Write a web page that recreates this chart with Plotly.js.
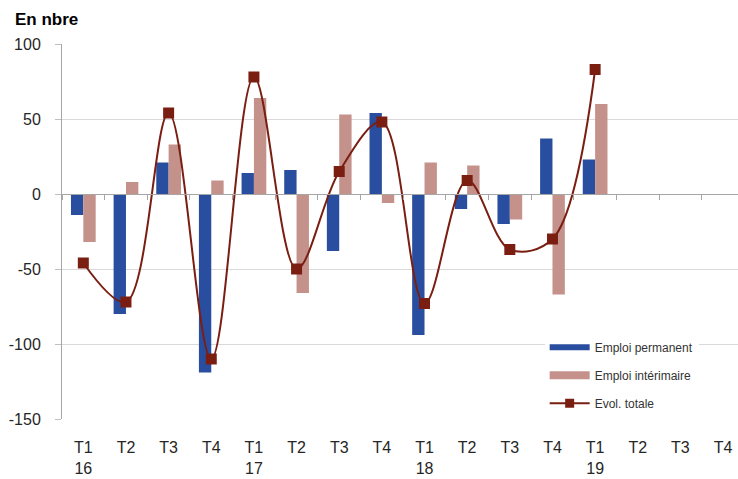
<!DOCTYPE html>
<html>
<head>
<meta charset="utf-8">
<script src="https://cdn.plot.ly/plotly-3.0.1.min.js"></script>
<style>html,body{margin:0;padding:0;background:#fff;}#chart{width:738px;height:479px;}</style>
</head>
<body>
<div id="chart"></div>
<script>
const quarters = ["T1","T2","T3","T4","T1","T2","T3","T4","T1","T2","T3","T4","T1","T2","T3","T4"];
const years = ["16","","","","17","","","","18","","","","19","","",""];
const emploiPermanent = [-14, -80, 21, -119, 14, 16, -38, 54, -94, -10, -20, 37, 23, null, null, null];
const emploiInterimaire = [-32, 8, 33, 9, 64, -66, 53, -6, 21, 19, -17, -67, 60, null, null, null];
const evolTotale = [-46, -72, 54, -110, 78, -50, 15, 48, -73, 9, -37, -30, 83, null, null, null];
const yTicks = [-150, -100, -50, 0, 50, 100];
const yTickText = ["-150", "-100", "-50", "0", "50", "100"];

const cats = quarters.map((q, i) => "c" + i);
const tickText = quarters.map((q, i) => years[i] ? q + "<br>" + years[i] : q + "<br> ");

const font = {family: "Liberation Sans, Arial, sans-serif", color: "#404040"};
const blue = "#2A4E9F", pink = "#C4928B", red = "#7A1E12";

const traces = [
  {type: "bar", name: "Emploi permanent", x: cats, y: emploiPermanent,
   marker: {color: blue}, showlegend: false, xaxis: "x", yaxis: "y", hoverinfo: "y"},
  {type: "bar", name: "Emploi intérimaire", x: cats, y: emploiInterimaire,
   marker: {color: pink}, showlegend: false, xaxis: "x", yaxis: "y", hoverinfo: "y"},
  {type: "scatter", mode: "lines+markers", name: "Evol. totale", x: cats, y: evolTotale,
   line: {color: red, width: 2, shape: "spline", smoothing: 1},
   marker: {symbol: "square", size: 11, color: red},
   showlegend: false, xaxis: "x2", yaxis: "y", connectgaps: false, hoverinfo: "y"},
  // legend entries
  {type: "scatter", mode: "lines", name: "Emploi permanent", x: [null], y: [null],
   line: {color: blue, width: 6}, legendgroup: "a", xaxis: "x", yaxis: "y"},
  {type: "scatter", mode: "lines", name: "Emploi intérimaire", x: [null], y: [null],
   line: {color: pink, width: 8}, legendgroup: "b", xaxis: "x", yaxis: "y"},
  {type: "scatter", mode: "lines+markers", name: "Evol. totale", x: [null], y: [null],
   line: {color: red, width: 2}, marker: {symbol: "square", size: 9, color: red},
   legendgroup: "c", xaxis: "x", yaxis: "y"}
];

const layout = {
  width: 738, height: 479,
  margin: {l: 62, r: 0, t: 44, b: 60},
  paper_bgcolor: "#fff", plot_bgcolor: "#fff",
  font: Object.assign({size: 15}, font),
  barmode: "group", bargap: 0.42, bargroupgap: 0,
  showlegend: true,
  legend: {
    x: 0.714, y: 0.23, xanchor: "left", yanchor: "top",
    bgcolor: "#ffffff", borderwidth: 0,
    font: Object.assign({size: 12}, font, {color: "#333333"}),
    traceorder: "grouped", tracegroupgap: 9, itemwidth: 40
  },
  xaxis: {
    type: "category", categoryorder: "array", categoryarray: cats,
    range: [-0.5, 15.35],
    tickvals: cats, ticktext: tickText,
    showline: false, showgrid: false, zeroline: false, ticks: "",
    tickfont: Object.assign({size: 16}, font, {color: "#262626"}),
    ticklabelstandoff: 17,
    fixedrange: true
  },
  xaxis2: {
    type: "category", categoryorder: "array", categoryarray: cats,
    range: [-0.5, 15.35], overlaying: "x", anchor: "free", position: 0.6,
    showline: true, linecolor: "#A6A6A6", linewidth: 1.3,
    ticks: "outside", tickson: "boundaries", ticklen: 5, tickcolor: "#A6A6A6",
    showticklabels: false, showgrid: false, zeroline: false
  },
  yaxis: {
    range: [-150, 100], tickvals: yTicks, ticktext: yTickText,
    showline: true, linecolor: "#A6A6A6", linewidth: 1,
    ticks: "outside", ticklen: 6, tickcolor: "#BFBFBF",
    showgrid: true, gridcolor: "#D9D9D9", gridwidth: 1,
    zeroline: false,
    tickfont: Object.assign({size: 16}, font, {color: "#262626"}),
    ticklabelstandoff: 11
  },
  annotations: [
    {text: "<b>En nbre</b>", xref: "paper", yref: "paper", x: -0.073, y: 1.0, yshift: 25,
     xanchor: "left", yanchor: "middle", showarrow: false,
     font: {family: "Liberation Sans, Arial, sans-serif", size: 17, color: "#000"}}
  ]
};

Plotly.newPlot("chart", traces, layout, {displayModeBar: false, staticPlot: true});
</script>
</body>
</html>
